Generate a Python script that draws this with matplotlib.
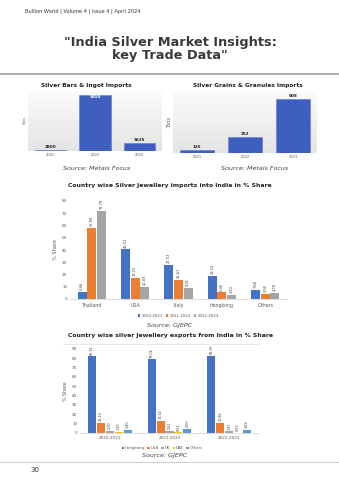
import matplotlib.pyplot as plt
import numpy as np
from matplotlib import font_manager

W, H = 339, 480

# top left: silver bars & ingot imports (tons)
bar_years = ['2021', '2022', '2023']
bar_tons = [2800, 9450, 3625]
# top right: silver grains & granules imports (tons)
grain_years = ['2021', '2022', '2023']
grain_tons = [125, 252, 608]

# jewellery imports into India, % share
imp_countries = ['Thailand', 'USA', 'Italy', 'Hongkong', 'Others']
imp_years = ['2020-2021', '2021-2022', '2022-2023']
imp_share = [
    [5.46, 40.51, 27.53, 19.12, 7.68],
    [57.89, 17.23, 15.61, 5.36, 3.95],
    [71.79, 10.03, 9.31, 3.43, 4.78],
]

# jewellery exports from India, % share
exp_years = ['2020-2021', '2021-2022', '2022-2023']
exp_countries = ['Hongkong', 'USA', 'UK', 'UAE', 'Others']
exp_share = [
    [82.31, 79.04, 82.95],
    [11.19, 13.14, 10.86],
    [2.30, 2.61, 1.97],
    [1.30, 0.61, 0.53],
    [3.40, 4.50, 3.69],
]

BLUE = '#4472C4'
ORANGE = '#ED7D31'
GRAY = '#A5A5A5'
YELLOW = '#FFC000'
LBLUE = '#5B9BD5'
TXT = '#595959'

# pick a condensed face for the headline if one is installed
names = {f.name for f in font_manager.fontManager.ttflist}
head_font = [n for n in ['Liberation Sans Narrow', 'DejaVu Sans Condensed'] if n in names] + ['DejaVu Sans']


def box(x0, y0, x1, y1):
    # pixel box (top-left origin) -> figure fraction rect
    return [x0 / W, 1 - y1 / H, (x1 - x0) / W, (y1 - y0) / H]


fig = plt.figure(figsize=(W / 100, H / 100), dpi=100)

# page header
fig.text(25 / W, 1 - 11 / H, 'Bullion World | Volume 4 | Issue 4 | April 2024',
         fontsize=3.6, color='#333333', va='center')
fig.text(170 / W, 1 - 49 / H, '"India Silver Market Insights:\nkey Trade Data"',
         fontsize=9.3 if head_font[0] == 'DejaVu Sans' else 10.5, fontweight='bold',
         color='#3a3a3a', ha='center', va='center', family=head_font, linespacing=1.0)
fig.add_artist(plt.Line2D([0, 1], [1 - 74 / H, 1 - 74 / H], color='#a0a0a0', lw=1.2))


def top_chart(rect, title, years, vals, ymin, ymax, title_xy, src_xy, label_inside_top=False):
    ax = fig.add_axes(rect)
    grad = np.linspace(1, 0, 256).reshape(-1, 1)
    ax.imshow(grad, extent=[0, 1, 0, 1], transform=ax.transAxes, aspect='auto',
              cmap=plt.matplotlib.colors.LinearSegmentedColormap.from_list('g', ['#e4e4e4', '#fbfbfb']),
              zorder=0)
    x = np.arange(len(years))
    ax.bar(x, vals, width=0.7, color='#3f5fbf', edgecolor='#5b7bd6', lw=0.4, zorder=2)
    ax.set_ylim(ymin, ymax)
    ax.set_xlim(-0.5, len(years) - 0.5)
    for xi, v in zip(x, vals):
        inside = label_inside_top and v == max(vals)
        ax.text(xi, v - (ymax - ymin) * 0.07 if inside else v + (ymax - ymin) * 0.02, str(v),
                ha='center', va='bottom', fontsize=3, fontweight='bold',
                color='white' if inside else '#222222', zorder=3)
    ax.set_xticks(x)
    ax.set_xticklabels(years, fontsize=2.6, color=TXT)
    ax.tick_params(length=0, pad=1.5)
    ax.set_yticks([])
    for s in ax.spines.values():
        s.set_visible(False)
    ax.set_ylabel('Tons', fontsize=3.6, color=TXT, labelpad=1)
    fig.text(title_xy[0] / W, 1 - title_xy[1] / H, title, fontsize=4.2, fontweight='bold',
             color='#222222', ha='center', va='center')
    fig.text(src_xy[0] / W, 1 - src_xy[1] / H, 'Source: Metals Focus', fontsize=4.6,
             style='italic', color='#444444', ha='center', va='center')
    return ax


ax1 = top_chart(box(28, 92, 162, 151), 'Silver Bars & Ingot Imports', bar_years, bar_tons,
                2700, 9750, (86, 86), (97, 168), label_inside_top=True)
ax1.yaxis.label.set_fontsize(2.6)
ax2 = top_chart(box(173, 92, 317, 153), 'Silver Grains & Granules Imports', grain_years, grain_tons,
                100, 675, (248, 86), (255, 168))

# chart 3: imports into India
ax3 = fig.add_axes(box(70, 201, 287, 299))
x = np.arange(len(imp_countries))
bw = 0.22
for i, (yr, col) in enumerate(zip(imp_years, [BLUE, ORANGE, GRAY])):
    pos = x + (i - 1) * bw
    ax3.bar(pos, imp_share[i], width=bw * 0.95, color=col, label=yr, zorder=2)
    for p, v in zip(pos, imp_share[i]):
        ax3.text(p, v + 1.5, f'{v:.2f}', rotation=90, ha='center', va='bottom',
                 fontsize=2.6, color='#404040')
ax3.set_ylim(0, 80)
ax3.set_yticks(range(0, 81, 10))
ax3.set_xlim(-0.5, len(imp_countries) - 0.5)
ax3.set_xticks(x)
ax3.set_xticklabels(imp_countries, fontsize=3.4, color=TXT)
ax3.tick_params(axis='y', labelsize=3, colors=TXT, length=0, pad=2)
ax3.tick_params(axis='x', length=0, pad=3)
for s in ['top', 'right', 'left']:
    ax3.spines[s].set_visible(False)
ax3.spines['bottom'].set_color('#d0d0d0')
ax3.spines['bottom'].set_linewidth(0.5)
ax3.set_ylabel('% Share', fontsize=3.6, color=TXT, labelpad=3)
ax3.legend(loc='center', bbox_to_anchor=(0.5, -0.17), ncol=3, fontsize=2.8, frameon=False,
           handlelength=0.6, handleheight=0.6, handletextpad=0.3, columnspacing=0.8,
           labelcolor=TXT)
fig.text(170 / W, 1 - 186 / H, 'Country wise Silver Jewellery imports into India in % Share',
         fontsize=4.4, fontweight='bold', color='#222222', ha='center', va='center')
fig.text(170 / W, 1 - 325 / H, 'Source: GJEPC', fontsize=4.6, style='italic',
         color='#444444', ha='center', va='center')

# chart 4: exports from India
ax4 = fig.add_axes(box(80, 349, 259, 433))
x = np.arange(len(exp_years))
bw = 0.15
for i, (name, col) in enumerate(zip(exp_countries, [BLUE, ORANGE, GRAY, YELLOW, LBLUE])):
    pos = x + (i - 2) * bw
    ax4.bar(pos, exp_share[i], width=bw * 0.9, color=col, label=name, zorder=2)
    for p, v in zip(pos, exp_share[i]):
        ax4.text(p, v + 1.5, f'{v:.2f}', rotation=90, ha='center', va='bottom',
                 fontsize=2.4, color='#404040')
ax4.set_ylim(0, 90)
ax4.set_yticks(range(0, 91, 10))
ax4.set_xlim(-0.5, len(exp_years) - 0.5)
ax4.set_xticks(x)
ax4.set_xticklabels(exp_years, fontsize=3, color=TXT)
ax4.tick_params(axis='y', labelsize=3, colors=TXT, length=0, pad=2)
ax4.tick_params(axis='x', length=0, pad=2)
for s in ['top', 'right', 'left']:
    ax4.spines[s].set_visible(False)
ax4.spines['bottom'].set_color('#d0d0d0')
ax4.spines['bottom'].set_linewidth(0.5)
ax4.set_ylabel('% Share', fontsize=3.4, color=TXT, labelpad=3)
ax4.legend(loc='center', bbox_to_anchor=(0.46, -0.18), ncol=5, fontsize=2.8, frameon=False,
           handlelength=0.6, handleheight=0.6, handletextpad=0.3, columnspacing=0.6,
           labelcolor=TXT)
fig.add_artist(plt.Line2D([63 / W, 260 / W], [1 - 344 / H, 1 - 344 / H], color='#e0e0e0', lw=0.5))
fig.text(170 / W, 1 - 336 / H, 'Country wise silver Jewellery exports from India in % Share',
         fontsize=4.4, fontweight='bold', color='#222222', ha='center', va='center')
fig.text(165 / W, 1 - 456 / H, 'Source: GJEPC', fontsize=4.6, style='italic',
         color='#444444', ha='center', va='center')

# footer
fig.add_artist(plt.Line2D([0, 1], [1 - 462 / H, 1 - 462 / H], color='#9a9a9a', lw=0.5,
                          linestyle=(0, (2, 1))))
fig.text(30 / W, 1 - 470 / H, '30', fontsize=5, color='#333333', va='center')

fig.savefig('out.png', dpi=100)
